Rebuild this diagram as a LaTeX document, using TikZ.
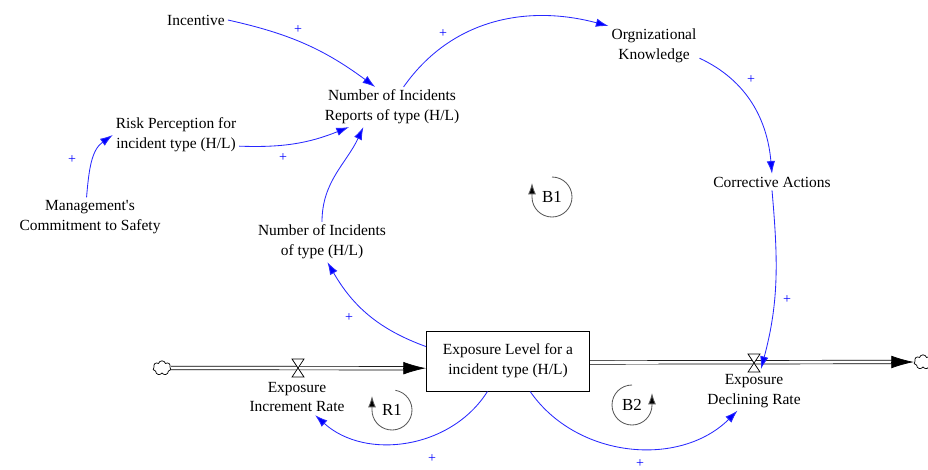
\documentclass[tikz,border=0pt]{standalone}
\usepackage{fontspec}
\setmainfont{Liberation Serif}
\usepackage{tikz}
\usetikzlibrary{arrows.meta}
\usetikzlibrary{shapes.symbols}
\definecolor{linkblue}{RGB}{40,40,255}
\tikzset{
    linkarrow/.style={-{Latex[length=9pt,width=6pt,fill=blue]}, draw=linkblue, line width=0.6pt},
    varname/.style={align=center, font=\fontsize{11}{14}\selectfont, inner sep=2pt},
    stockbox/.style={draw, line width=0.7pt, align=center, minimum width=4.08cm, minimum height=1.5cm, font=\fontsize{11}{14}\selectfont},
    plussign/.style={text=blue, font=\fontsize{10}{12}\selectfont, inner sep=0pt},
    pipe/.style={draw=black, double=white, double distance=2pt, line width=0.5pt},
    flowtip/.style={-{Latex[length=16pt,width=9pt]}, line width=0.5pt},
    valve/.style={draw=black, line width=0.5pt, fill=white},
    sinkcloud/.style={cloud, cloud puffs=7, draw, line width=0.5pt, minimum width=0.45cm, minimum height=0.36cm, inner sep=0pt},
    loopsym/.style={-{Latex[length=8pt,width=5.5pt,fill=black]}, draw=black!65, line width=0.6pt},
    looplabel/.style={font=\fontsize{12}{14}\selectfont, inner sep=0pt}
}

\begin{document}
\begin{tikzpicture}[x=0.025cm, y=-0.025cm]
    \useasboundingbox (0,0) rectangle (928,469);

    % auxiliaries and levels
    \node[varname] (incentive) at (196,20) {Incentive};
    \node[varname] (reports) at (392,107) {Number of Incidents\\Reports of type (H/L)};
    \node[varname] (knowledge) at (654,46) {Orgnizational\\Knowledge};
    \node[varname] (risk) at (176,135) {Risk Perception for\\incident type (H/L)};
    \node[varname] (commit) at (90,217) {Management\textquotesingle s\\Commitment to Safety};
    \node[varname] (corrective) at (772,182) {Corrective Actions};
    \node[varname] (incidents) at (322,242) {Number of Incidents\\of type (H/L)};
    \node[stockbox] (exposure) at (508,361) {Exposure Level for a\\incident type (H/L)};
    \node[varname] (incrate) at (297,397) {Exposure\\Increment Rate};
    \node[varname] (decrate) at (754,391) {Exposure\\Declining Rate};

    % flows in and out of the stock
    \node[sinkcloud] (cloudL) at (162,368) {};
    \node[sinkcloud] (cloudR) at (923,362) {};
    \coordinate (incvalve) at (298,368);
    \coordinate (decvalve) at (754,363);
    \coordinate (dectip) at (761,369);

    \draw[pipe] (cloudL.east) -- ([xshift=-15pt]exposure.185);
    \draw[flowtip] ([xshift=-16pt]exposure.185) -- (exposure.185);
    \draw[pipe] (exposure.-1) -- ([xshift=-15pt]cloudR.west);
    \draw[flowtip] ([xshift=-16pt]cloudR.west) -- (cloudR.west);
    \draw[valve] (incvalve) +(-6,-9) -- +(6,-9) -- +(-6,9) -- +(6,9) -- cycle;
    \draw[valve] (decvalve) +(-6,-9) -- +(6,-9) -- +(-6,9) -- +(6,9) -- cycle;

    % causal links
    \draw[linkarrow] (incentive.east) to[bend left=12] (reports.130);
    \draw[linkarrow] (risk.-10) to[bend right=12] (reports.205);
    \draw[linkarrow] (commit.100) to[out=85, in=215] (risk.west);
    \draw[linkarrow] (incidents.north) to[out=90, in=245] (reports.215);
    \draw[linkarrow] (reports.60) to[out=55, in=165] (knowledge.north west);
    \draw[linkarrow] (knowledge.-15) to[out=-25, in=95] (corrective.north);
    \draw[linkarrow] (corrective.south) to[out=-85, in=75] (dectip);
    \draw[linkarrow] (exposure.170) to[out=160, in=-60] (incidents.-75);
    \draw[linkarrow] (exposure.-124) to[bend left=50] (incrate.-45);
    \draw[linkarrow] (exposure.-54) to[bend right=50] (decrate.-130);

    % polarities
    \node[plussign] (p1) at (298,30) {+};
    \node[plussign] (p2) at (443,34) {+};
    \node[plussign] (p3) at (751,80) {+};
    \node[plussign] (p4) at (283,158) {+};
    \node[plussign] (p5) at (72,160) {+};
    \node[plussign] (p6) at (787,300) {+};
    \node[plussign] (p7) at (349,318) {+};
    \node[plussign] (p8) at (432,459) {+};
    \node[plussign] (p9) at (640,464) {+};

    % loop markers
    \node[looplabel] (b1) at (552,197) {B1};
    \node[looplabel] (r1) at (392,410) {R1};
    \node[looplabel] (b2) at (632,405) {B2};
    \draw[loopsym] ([shift={(90:0.5cm)}]b1.center) arc[start angle=90, end angle=-180, radius=0.5cm] -- ++(0,-14);
    \draw[loopsym] ([shift={(80:0.5cm)}]r1.center) arc[start angle=80, end angle=-180, radius=0.5cm] -- ++(0,-14);
    \draw[loopsym] ([shift={(90:0.5cm)}]b2.center) arc[start angle=90, end angle=360, radius=0.5cm] -- ++(0,-12);
\end{tikzpicture}
\end{document}
